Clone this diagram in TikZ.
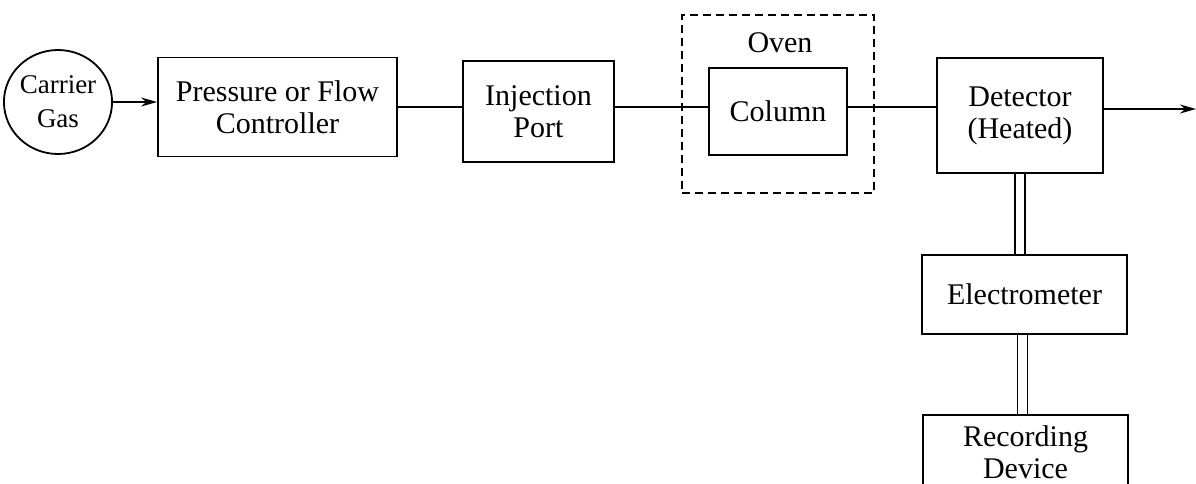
\documentclass[tikz,border=0pt]{standalone}
\usepackage{fontspec}
\setmainfont{Liberation Serif}
\usetikzlibrary{arrows.meta,shapes.geometric}
\begin{document}
\begin{tikzpicture}[x=0.5pt,y=-0.5pt,
  every node/.style={inner sep=0pt,align=center,font=\fontsize{15}{16}\selectfont},
  blk/.style={draw,line width=0.9pt,rectangle},
  conn/.style={line width=0.9pt},
  arr/.style={line width=0.9pt,-{Stealth[length=8pt,width=4.5pt]}},
  dbl/.style={line width=0.8pt,double distance=4.2pt}]
\useasboundingbox (0,0) rectangle (1196,483);
\fill[white] (0,0) rectangle (1196,483);
\node[draw,line width=0.9pt,ellipse,minimum width=46.5pt,minimum height=52pt,
  font=\fontsize{13.5}{17}\selectfont] (gas) at (58,102) {Carrier\\Gas};
\node[blk,minimum width=119.5pt,minimum height=49.5pt] (press) at (277.5,107) {Pressure or Flow\\Controller};
\node[blk,minimum width=75.5pt,minimum height=50.5pt] (inj) at (538.5,111.5) {Injection\\Port};
\node[draw,dash pattern=on 4pt off 2.5pt,line width=0.8pt,minimum width=96pt,minimum height=89pt] (oven) at (778,104) {};
\node (ovenlbl) at (780,43) {Oven};
\node[blk,minimum width=69pt,minimum height=43.5pt] (col) at (778,111.5) {Column};
\node[blk,minimum width=83pt,minimum height=57.5pt] (det) at (1020,115.5) {Detector\\(Heated)};
\node[blk,minimum width=102.5pt,minimum height=39.5pt] (elec) at (1024.5,294.5) {Electrometer};
\node[blk,minimum width=102.5pt,minimum height=37pt] (rec) at (1025.5,452) {Recording\\Device};
\coordinate (row) at (0,107);
\coordinate (out) at (1196,109);
\draw[arr] (gas.east) -- (press.west |- gas.east);
\draw[conn] (press.east |- row) -- (inj.west |- row);
\draw[conn] (inj.east |- row) -- (col.west |- row);
\draw[conn] (col.east |- row) -- (det.west |- row);
\draw[arr] (det.east |- out) -- (out);
\draw[dbl] (det.south) -- (det.south |- elec.north);
\draw[dbl] ([xshift=-1pt]elec.south) -- ([xshift=-1pt]elec.south |- rec.north);
\end{tikzpicture}
\end{document}
